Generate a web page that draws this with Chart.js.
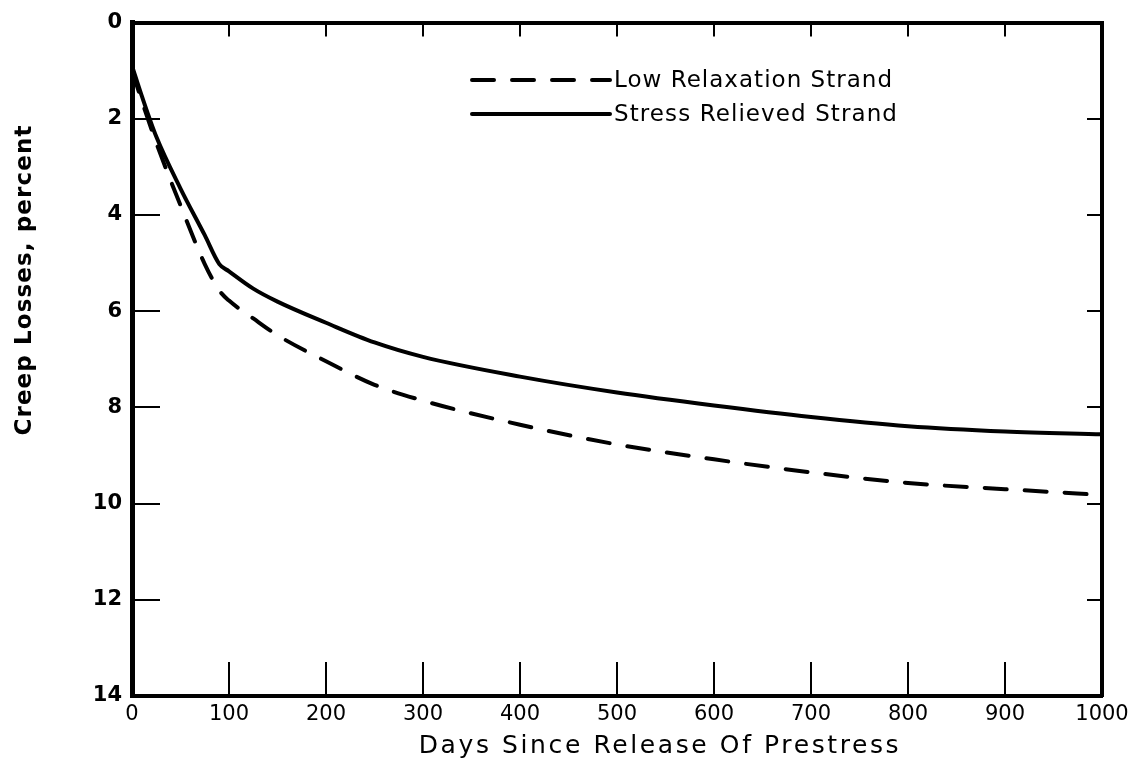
<!DOCTYPE html>
<html>
<head>
<meta charset="utf-8">
<script src="https://cdn.jsdelivr.net/npm/chart.js@4.4.0/dist/chart.umd.min.js"></script>
<style>
html,body{margin:0;padding:0;background:#fff;}
canvas{display:block;}
</style>
</head>
<body>
<canvas id="c" width="1139" height="767"></canvas>
<script>
// ---- data ----
const days = [0, 10, 25, 50, 75, 90, 100, 125, 150, 200, 250, 300, 400, 500, 600, 700, 800, 900, 1000];
const lowRelaxation  = [1.0, 1.62, 2.5, 3.8, 5.02, 5.57, 5.78, 6.15, 6.5, 7.04, 7.53, 7.86, 8.36, 8.77, 9.08, 9.35, 9.57, 9.7, 9.82];
const stressRelieved = [0.9, 1.52, 2.37, 3.45, 4.42, 5.02, 5.17, 5.53, 5.8, 6.24, 6.65, 6.95, 7.36, 7.69, 7.96, 8.2, 8.39, 8.5, 8.56];
const xTickValues = [0, 100, 200, 300, 400, 500, 600, 700, 800, 900, 1000];
const yTickValues = [0, 2, 4, 6, 8, 10, 12, 14];
const seriesLabels = ['Low Relaxation Strand', 'Stress Relieved Strand'];
const xTitle = 'Days Since Release Of Prestress';
const yTitle = 'Creep Losses, percent';

const toPoints = (xs, ys) => xs.map((x, i) => ({x: x, y: ys[i]}));

function fitText(ctx, text, x, y, target) {
  ctx.letterSpacing = '0px';
  const w = ctx.measureText(text).width;
  const n = Math.max(text.length - 1, 1);
  const ls = (target - w) / n;
  ctx.letterSpacing = ls.toFixed(2) + 'px';
  ctx.fillText(text, x, y);
  ctx.letterSpacing = '0px';
}

const overlay = {
  id: 'overlay',
  afterDraw(chart) {
    const ctx = chart.ctx;
    const a = chart.chartArea;
    const sx = chart.scales.x, sy = chart.scales.y;
    ctx.save();
    ctx.strokeStyle = '#000';
    ctx.lineWidth = 2;
    ctx.setLineDash([]);
    const seg = (x1, y1, x2, y2) => { ctx.beginPath(); ctx.moveTo(x1, y1); ctx.lineTo(x2, y2); ctx.stroke(); };
    // inward tick marks
    xTickValues.forEach(v => {
      if (v <= sx.min || v >= sx.max) return;
      const px = Math.round(sx.getPixelForValue(v));
      seg(px, a.bottom, px, a.bottom - 34);
      seg(px, a.top, px, a.top + 14);
    });
    yTickValues.forEach(v => {
      if (v <= sy.min || v >= sy.max) return;
      const py = Math.round(sy.getPixelForValue(v));
      seg(a.left, py, a.left + 28, py);
      seg(a.right, py, a.right - 15, py);
    });
    // legend
    const ds = chart.data.datasets;
    const legendY = [80, 114];
    ctx.fillStyle = '#000';
    ctx.textBaseline = 'middle';
    ctx.textAlign = 'left';
    ds.forEach((d, i) => {
      ctx.lineWidth = d.borderWidth;
      ctx.lineCap = 'round';
      ctx.setLineDash(d.borderDash || []);
      seg(472, legendY[i], 610, legendY[i]);
      ctx.setLineDash([]);
      ctx.font = '23px "DejaVu Sans", sans-serif';
      fitText(ctx, d.label, 614, legendY[i] + 1, i === 0 ? 278 : 283);
    });
    // axis titles
    ctx.textAlign = 'center';
    ctx.font = '25px "DejaVu Sans", sans-serif';
    fitText(ctx, xTitle, 660, 746, 480);
    ctx.save();
    ctx.translate(25, 280);
    ctx.rotate(-Math.PI / 2);
    ctx.font = 'bold 23px "DejaVu Sans", sans-serif';
    fitText(ctx, yTitle, 0, 0, 310);
    ctx.restore();
    ctx.restore();
  }
};

new Chart(document.getElementById('c'), {
  type: 'line',
  data: {
    datasets: [
      {
        label: seriesLabels[0],
        data: toPoints(days, lowRelaxation),
        borderColor: '#000',
        backgroundColor: '#000',
        borderWidth: 4,
        borderDash: [22, 18],
        borderCapStyle: 'round',
        pointRadius: 0,
        fill: false,
        cubicInterpolationMode: 'monotone'
      },
      {
        label: seriesLabels[1],
        data: toPoints(days, stressRelieved),
        borderColor: '#000',
        backgroundColor: '#000',
        borderWidth: 4,
        borderCapStyle: 'round',
        pointRadius: 0,
        fill: false,
        cubicInterpolationMode: 'monotone'
      }
    ]
  },
  options: {
    responsive: false,
    animation: false,
    devicePixelRatio: 1,
    layout: {padding: 0},
    plugins: {legend: {display: false}, tooltip: {enabled: false}},
    scales: {
      x: {
        type: 'linear', position: 'bottom', min: 0, max: 1000,
        afterBuildTicks: s => { s.ticks = xTickValues.map(v => ({value: v})); },
        afterFit: s => { s.height = 71; },
        grid: {display: false, drawTicks: false},
        border: {display: true, width: 4, color: '#000'},
        ticks: {color: '#000', padding: 6, maxRotation: 0, autoSkip: false,
                callback: v => String(v),
                font: {family: '"DejaVu Sans", sans-serif', size: 21, weight: 'normal'}}
      },
      x2: {
        type: 'linear', position: 'top', min: 0, max: 1000,
        afterFit: s => { s.height = 14; },
        grid: {display: false, drawTicks: false},
        border: {display: true, width: 4, color: '#000'},
        ticks: {display: false}
      },
      y: {
        type: 'linear', position: 'left', min: 0, max: 14, reverse: true,
        afterBuildTicks: s => { s.ticks = yTickValues.map(v => ({value: v})); },
        afterFit: s => { s.width = 132; },
        grid: {display: false, drawTicks: false},
        border: {display: true, width: 5, color: '#000'},
        ticks: {color: '#000', padding: 10, autoSkip: false,
                callback: v => String(v),
                font: {family: '"DejaVu Sans", sans-serif', size: 21, weight: 'bold'}}
      },
      y2: {
        type: 'linear', position: 'right', min: 0, max: 14, reverse: true,
        afterFit: s => { s.width = 37; },
        grid: {display: false, drawTicks: false},
        border: {display: true, width: 4, color: '#000'},
        ticks: {display: false}
      }
    }
  },
  plugins: [overlay]
});
</script>
</body>
</html>
